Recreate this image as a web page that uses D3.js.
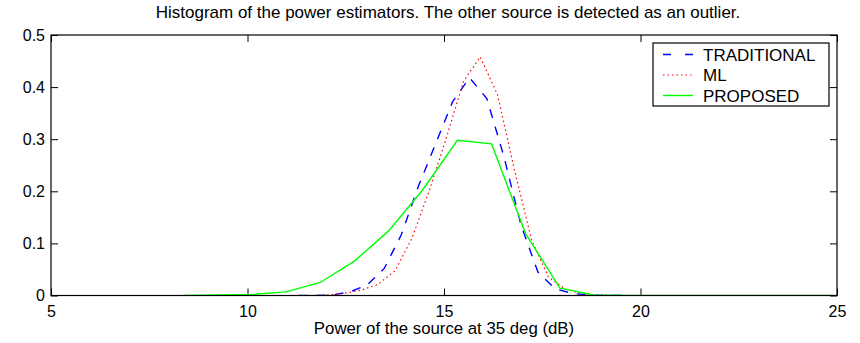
<!DOCTYPE html>
<html>
<head>
<meta charset="utf-8">
<script src="https://cdn.jsdelivr.net/npm/d3@7"></script>
<style>
    body { margin: 0; background: #fff; }
    text { font-family: "Liberation Sans", Arial, sans-serif; fill: #000; }
    .axis path { display: none; }
    .axis line { stroke: #000; }
    .axis text { font-size: 16px; }
</style>
</head>
<body>
<div id="chart-area"></div>
<script>

// DATA (histogram bin centres in dB, relative frequency)

var binsTraditional = [11.30, 11.74, 12.17, 12.61, 13.04, 13.48, 13.91, 14.35, 14.78, 15.22,
                       15.65, 16.09, 16.52, 16.96, 17.39, 17.83, 18.26, 18.70, 19.13, 19.57];
var traditional = [0, 0, 0.001, 0.007, 0.020, 0.052, 0.116, 0.210, 0.290, 0.372,
                   0.418, 0.378, 0.268, 0.135, 0.045, 0.013, 0.004, 0.001, 0, 0];

var binsML = [11.57, 12.01, 12.44, 12.88, 13.31, 13.75, 14.18, 14.62, 15.05, 15.49,
              15.92, 16.36, 16.79, 17.23, 17.66, 18.10, 18.53, 18.97, 19.40, 19.84];
var ml = [0, 0.001, 0.004, 0.010, 0.021, 0.047, 0.109, 0.200, 0.300, 0.410,
          0.458, 0.386, 0.242, 0.106, 0.035, 0.012, 0.003, 0.001, 0, 0];

var binsProposed = [8.36, 9.23, 10.10, 10.98, 11.85, 12.72, 13.59, 14.46, 15.34, 16.21,
                    17.08, 17.95, 18.82, 19.70, 20.57, 21.44, 22.31, 23.18, 24.06, 24.93];
var proposed = [0, 0.001, 0.002, 0.007, 0.025, 0.066, 0.124, 0.203, 0.298, 0.291,
                0.118, 0.014, 0.001, 0, 0, 0, 0, 0, 0, 0];

var xTicks = [5, 10, 15, 20, 25];
var yTicks = [0, 0.1, 0.2, 0.3, 0.4, 0.5];

var series = [
    {name: "TRADITIONAL", bins: binsTraditional, values: traditional, color: "#0000ff", dash: "9,9", width: 1.4},
    {name: "ML", bins: binsML, values: ml, color: "#ff0000", dash: "1.5,3", width: 1.2},
    {name: "PROPOSED", bins: binsProposed, values: proposed, color: "#00ff00", dash: null, width: 1.4}
];


// CHART AREA

var margin = {top: 35, right: 23, bottom: 47.5, left: 51},
    width = 860 - margin.left - margin.right,
    height = 343 - margin.top - margin.bottom;

var svg = d3.select("#chart-area").append("svg")
    .attr("width", width + margin.left + margin.right)
    .attr("height", height + margin.top + margin.bottom)
    .append("g")
    .attr("transform", "translate(" + margin.left + "," + margin.top + ")");

svg.append("clipPath")
    .attr("id", "plot-clip")
    .append("rect")
    .attr("width", width)
    .attr("height", height);


// SCALES + AXES (matlab style: ticks inside on all four sides)

var x = d3.scaleLinear().domain([5, 25]).range([0, width]);
var y = d3.scaleLinear().domain([0, 0.5]).range([height, 0]);

svg.append("g")
    .attr("class", "x-axis axis")
    .attr("transform", "translate(0," + height + ")")
    .call(d3.axisBottom(x).tickValues(xTicks).tickSizeInner(-7).tickSizeOuter(0).tickPadding(10)
        .tickFormat(d3.format("d")));

svg.append("g")
    .attr("class", "axis")
    .call(d3.axisTop(x).tickValues(xTicks).tickSizeInner(-7).tickSizeOuter(0).tickFormat(""));

svg.append("g")
    .attr("class", "y-axis axis")
    .call(d3.axisLeft(y).tickValues(yTicks).tickSizeInner(-7).tickSizeOuter(0).tickPadding(6)
        .tickFormat(function(d) { return d === 0 ? "0" : d3.format(".1f")(d); }));

svg.append("g")
    .attr("class", "axis")
    .attr("transform", "translate(" + width + ",0)")
    .call(d3.axisRight(y).tickValues(yTicks).tickSizeInner(-7).tickSizeOuter(0).tickFormat(""));


// LINES

var line = d3.line()
    .x(function(d) { return x(d[0]); })
    .y(function(d) { return y(d[1]); });

series.forEach(function(s) {
    svg.append("path")
        .datum(d3.zip(s.bins, s.values))
        .attr("clip-path", "url(#plot-clip)")
        .attr("fill", "none")
        .attr("stroke", s.color)
        .attr("stroke-width", s.width)
        .attr("stroke-dasharray", s.dash)
        .attr("d", line);
});

// axes box on top
svg.append("rect")
    .attr("width", width)
    .attr("height", height)
    .attr("fill", "none")
    .attr("stroke", "#000")
    .attr("stroke-width", 1.2);


// LEGEND

var legend = svg.append("g")
    .attr("transform", "translate(" + (602) + "," + (8) + ")");

legend.append("rect")
    .attr("width", 176)
    .attr("height", 63)
    .attr("fill", "#fff")
    .attr("stroke", "#000")
    .attr("stroke-width", 1.2);

series.forEach(function(s, i) {
    var ly = 11.5 + i * 20.5;
    legend.append("line")
        .attr("x1", 10).attr("x2", 40)
        .attr("y1", ly).attr("y2", ly)
        .attr("stroke", s.color)
        .attr("stroke-width", s.width)
        .attr("stroke-dasharray", s.dash === "9,9" ? "8,14" : s.dash);
    legend.append("text")
        .attr("x", 50)
        .attr("y", ly)
        .attr("dy", "0.36em")
        .style("font-size", "17px")
        .text(s.name);
});


// TITLES

svg.append("text")
    .attr("x", width / 2 + 4)
    .attr("y", -17)
    .style("text-anchor", "middle")
    .style("font-size", "17px")
    .text("Histogram of the power estimators. The other source is detected as an outlier.");

svg.append("text")
    .attr("x", width / 2)
    .attr("y", height + 38)
    .style("text-anchor", "middle")
    .style("font-size", "16.8px")
    .text("Power of the source at 35 deg (dB)");

</script>
</body>
</html>
